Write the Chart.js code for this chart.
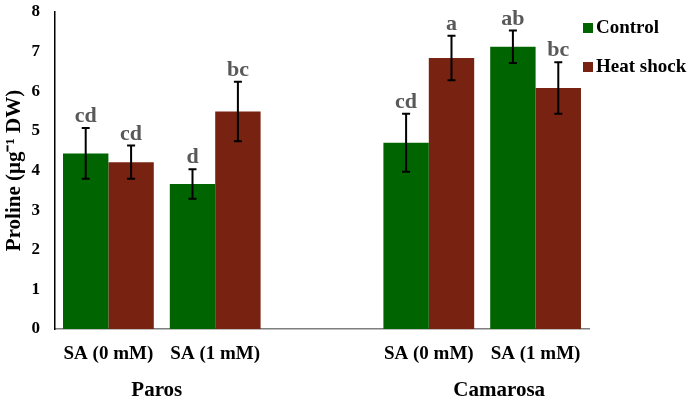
<!DOCTYPE html>
<html>
<head>
<meta charset="utf-8">
<script src="https://cdn.jsdelivr.net/npm/chart.js@4/dist/chart.umd.min.js"></script>
<style>
  html, body { margin: 0; padding: 0; background: #ffffff; }
  #wrap { width: 687px; height: 397px; }
</style>
</head>
<body>
<div id="wrap"><canvas id="c"></canvas></div>
<script>
// categories (empty slot separates the two cultivars)
const categories = ['SA (0 mM)', 'SA (1 mM)', '', 'SA (0 mM)', 'SA (1 mM)'];
const cultivars = ['Paros', 'Camarosa'];

// proline means
const controlVals = [4.43, 3.66, null, 4.70, 7.12];
const heatVals    = [4.21, 5.49, null, 6.84, 6.08];

// standard errors
const controlErr = [0.64, 0.37, null, 0.73, 0.41];
const heatErr    = [0.42, 0.75, null, 0.56, 0.65];

// significance letters
const controlLetters = ['cd', 'd', '', 'cd', 'ab'];
const heatLetters    = ['cd', 'bc', '', 'a', 'bc'];

const yTicks = [0, 1, 2, 3, 4, 5, 6, 7, 8];

const GREEN = '#006400';
const BROWN = '#782312';
const SERIF = '"Liberation Serif", "Times New Roman", serif';

// error bars + letters over each bar
const errorBarPlugin = {
    id: 'errorBars',
    afterDatasetsDraw(chart) {
        const ctx = chart.ctx;
        const y = chart.scales.y;
        const errs = [controlErr, heatErr];
        const letters = [controlLetters, heatLetters];
        chart.data.datasets.forEach((ds, di) => {
            const meta = chart.getDatasetMeta(di);
            meta.data.forEach((bar, i) => {
                const v = ds.data[i];
                if (v === null) return;
                const e = errs[di][i];
                const top = y.getPixelForValue(v + e);
                const bot = y.getPixelForValue(v - e);
                ctx.save();
                ctx.strokeStyle = '#000000';
                ctx.lineWidth = 2;
                ctx.beginPath();
                ctx.moveTo(bar.x, top); ctx.lineTo(bar.x, bot);
                ctx.moveTo(bar.x - 4, top); ctx.lineTo(bar.x + 4, top);
                ctx.moveTo(bar.x - 4, bot); ctx.lineTo(bar.x + 4, bot);
                ctx.stroke();
                ctx.fillStyle = '#595959';
                ctx.font = 'bold 22px ' + SERIF;
                ctx.textAlign = 'center';
                ctx.textBaseline = 'alphabetic';
                ctx.fillText(letters[di][i], bar.x, top - 6);
                ctx.restore();
            });
        });
    }
};

// cultivar names under the axis and legend on the right
const extrasPlugin = {
    id: 'extras',
    afterDraw(chart) {
        const ctx = chart.ctx;
        const x = chart.scales.x;
        ctx.save();
        ctx.fillStyle = '#000000';
        ctx.font = 'bold 21px ' + SERIF;
        ctx.textAlign = 'center';
        ctx.textBaseline = 'middle';
        const parosX = (x.getPixelForValue(0) + x.getPixelForValue(1)) / 2 - 5;
        const camX = (x.getPixelForValue(3) + x.getPixelForValue(4)) / 2 + 17;
        ctx.fillText(cultivars[0], parosX, 391);
        ctx.fillText(cultivars[1], camX, 391);

        // legend
        const lx = chart.chartArea.right - 6;
        const rows = [28, 67];
        chart.data.datasets.forEach((ds, i) => {
            ctx.fillStyle = ds.backgroundColor;
            ctx.fillRect(lx, rows[i] - 5, 10, 10);
            ctx.fillStyle = '#000000';
            ctx.font = 'bold 19px ' + SERIF;
            ctx.textAlign = 'left';
            ctx.fillText(ds.label, lx + 13, rows[i]);
        });
        ctx.restore();
    }
};

new Chart(document.getElementById('c'), {
    type: 'bar',
    data: {
        labels: categories,
        datasets: [
            { label: 'Control', data: controlVals, backgroundColor: GREEN, borderWidth: 0 },
            { label: 'Heat shock', data: heatVals, backgroundColor: BROWN, borderWidth: 0 }
        ]
    },
    options: {
        responsive: true,
        maintainAspectRatio: false,
        animation: false,
        layout: { padding: { top: 12, right: 98, bottom: 0, left: 0 } },
        datasets: { bar: { categoryPercentage: 0.85, barPercentage: 1.0 } },
        plugins: {
            legend: { display: false },
            tooltip: { enabled: false }
        },
        scales: {
            x: {
                grid: { display: false, drawTicks: false },
                border: { display: true, color: '#7f7f7f', width: 1.5 },
                ticks: {
                    color: '#000000',
                    padding: 14,
                    maxRotation: 0,
                    autoSkip: false,
                    font: { family: SERIF, weight: 'bold', size: 19 }
                },
                afterFit(scale) {
                    scale.height = 68;
                    scale.paddingLeft = 0;
                    scale.paddingRight = 0;
                }
            },
            y: {
                min: 0,
                max: 8,
                afterBuildTicks(scale) { scale.ticks = yTicks.map(v => ({ value: v })); },
                grid: { display: false, drawTicks: false },
                border: { display: true, color: '#000000', width: 1.5 },
                ticks: {
                    color: '#000000',
                    padding: 15,
                    font: { family: SERIF, weight: 'bold', size: 17 }
                },
                title: {
                    display: true,
                    text: 'Proline (μg⁻¹ DW)',
                    color: '#000000',
                    padding: { top: 2, bottom: 0 },
                    font: { family: SERIF, weight: 'bold', size: 21 }
                },
                afterFit(scale) {
                    scale.width = 55;
                    scale.paddingTop = 0;
                    scale.paddingBottom = 0;
                }
            }
        }
    },
    plugins: [errorBarPlugin, extrasPlugin]
});
</script>
</body>
</html>
